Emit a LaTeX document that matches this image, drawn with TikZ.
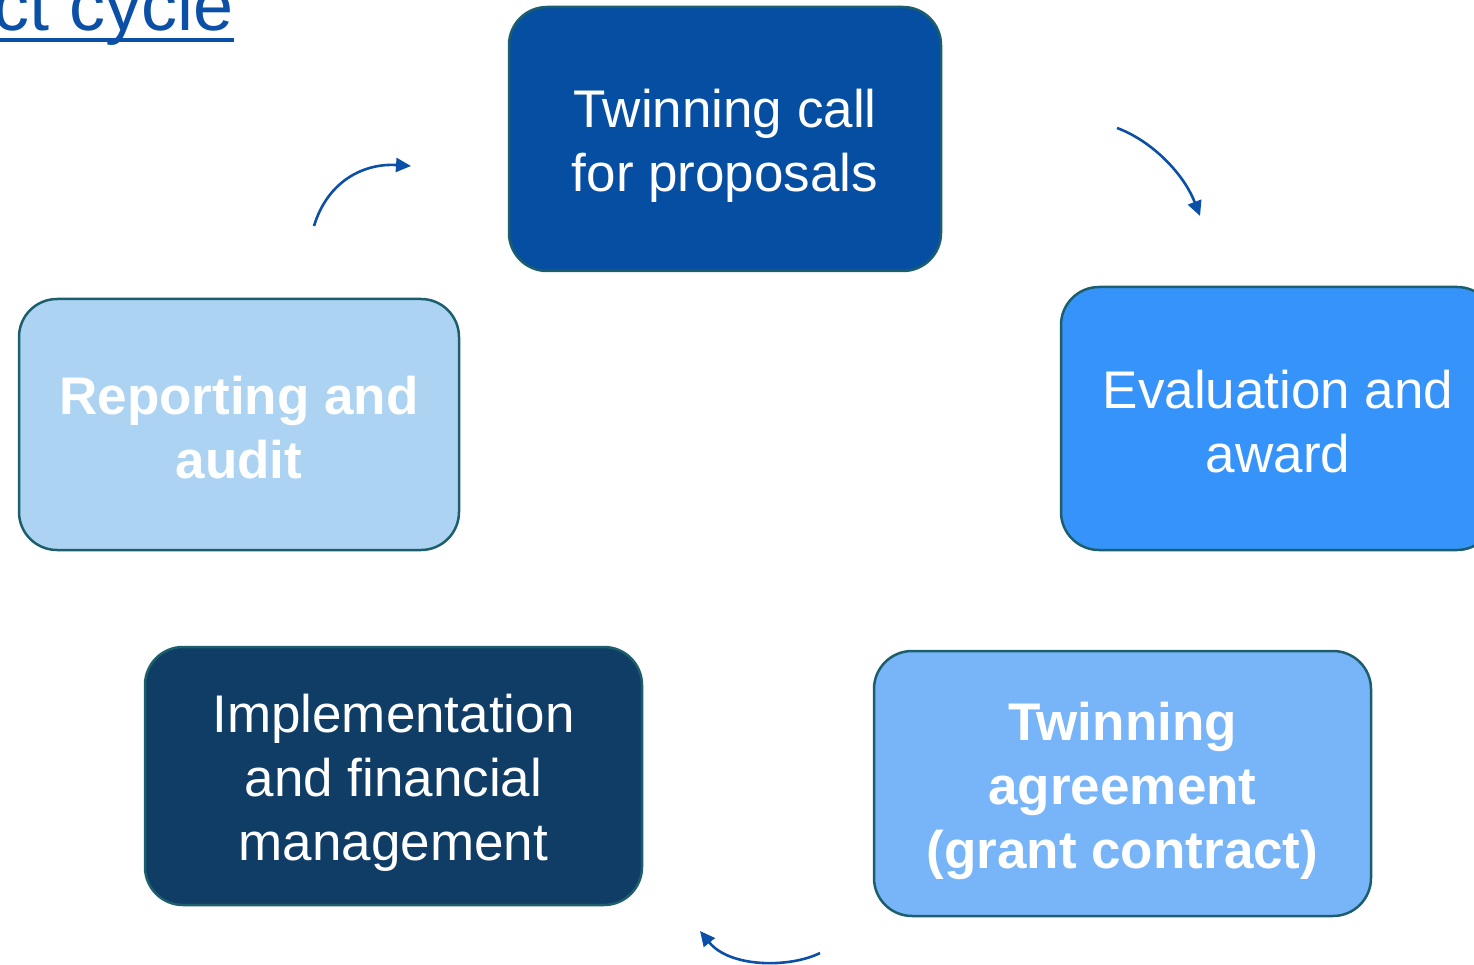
\documentclass[tikz,border=0pt]{standalone}
\usepackage{fontspec}
\setmainfont{Liberation Sans}
\usetikzlibrary{arrows.meta}

\definecolor{edge}{HTML}{1D5E6C}
\definecolor{flowblue}{HTML}{0B50A6}
\definecolor{callblue}{HTML}{054EA1}
\definecolor{evalblue}{HTML}{3693F9}
\definecolor{reportblue}{HTML}{ACD3F2}
\definecolor{implblue}{HTML}{103D66}
\definecolor{agreeblue}{HTML}{78B4F8}

\begin{document}
\begin{tikzpicture}[x=1pt,y=-1pt,
  stage/.style={draw=edge, line width=2.5pt, rounded corners=38pt, inner sep=0pt},
  caption/.style={text=white, align=center, inner sep=0pt,
    font=\fontsize{53}{64}\selectfont},
  boldcaption/.style={caption, font=\fontsize{53}{64}\selectfont\bfseries},
  flow/.style={draw=flowblue, line width=2.6pt, -{Triangle[length=15pt,width=14pt]}}]
\clip (0,0) rectangle (1474,965);
\useasboundingbox (0,0) rectangle (1474,965);

% heading, partly outside the page
\node[anchor=base east, inner sep=0pt, text=flowblue, font=\fontsize{72}{80}\selectfont]
  (title) at (234,31) {ct cycle};
\draw[flowblue, line width=4pt] ([yshift=-9pt]title.base west) -- ([yshift=-9pt]title.base east);

% the five stages of the cycle
\node[stage, fill=callblue, minimum width=432pt, minimum height=264pt,
  label={[caption, yshift=-7pt]center:{Twinning call\\for proposals}}]
  (call) at (725,139) {};
\node[stage, fill=evalblue, minimum width=434pt, minimum height=263pt,
  label={[caption, yshift=-3pt]center:{Evaluation and\\award}}]
  (eval) at (1278,418.5) {};
\node[stage, fill=agreeblue, minimum width=497pt, minimum height=265pt,
  label={[boldcaption, yshift=-7pt]center:{Twinning\\agreement\\(grant contract)}}]
  (agree) at (1122.5,783.5) {};
\node[stage, fill=implblue, minimum width=497pt, minimum height=258pt,
  label={[caption, yshift=-7pt]center:{Implementation\\and financial\\management}}]
  (impl) at (393.5,776) {};
\node[stage, fill=reportblue, minimum width=440pt, minimum height=251pt,
  label={[boldcaption, yshift=-3pt]center:{Reporting and\\audit}}]
  (report) at (239,424.5) {};

% curved arrows between the stages
\coordinate (a1s) at (314,226);  \coordinate (a1e) at (411,166);
\coordinate (a2s) at (1117,128); \coordinate (a2e) at (1200,216);
\coordinate (a3s) at (820,953);  \coordinate (a3e) at (700,931);
\draw[flow] (a1s) .. controls (328,180) and (365,163) .. (a1e);
\draw[flow] (a2s) .. controls (1150,140) and (1183,172) .. (a2e);
\draw[flow] (a3s) .. controls (790,968) and (730,968) .. (a3e);
\end{tikzpicture}
\end{document}
